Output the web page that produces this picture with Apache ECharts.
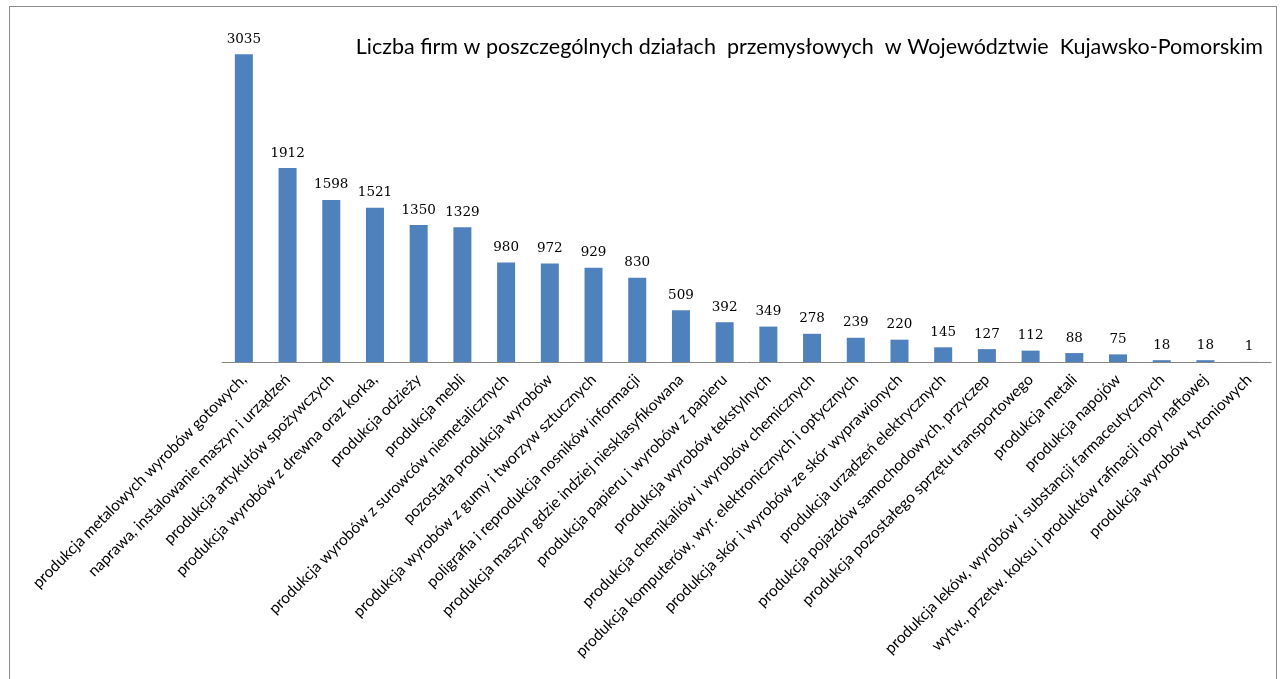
<!DOCTYPE html>
<html>
<head>
<meta charset="utf-8">
<script src="https://cdn.jsdelivr.net/npm/echarts@6/dist/echarts.min.js"></script>
<style>
    html, body {margin: 0; padding: 0; background: #fff;}
    #frame {position: absolute; left: 9px; top: 6px; width: 1268px; height: 690px; border: 1px solid #8c8c8c; box-sizing: border-box;}
    #main {position: absolute; left: 0; top: 0; width: 1280px; height: 679px;}
</style>
</head>
<body>
<div id="frame"></div>
<div id="main"></div>
<script>
// dane: liczba firm w działach przemysłowych
var categories = [
    'produkcja metalowych wyrobów gotowych,',
    'naprawa, instalowanie maszyn i urządzeń',
    'produkcja artykułów spożywczych',
    'produkcja wyrobów z drewna oraz korka,',
    'produkcja odzieży',
    'produkcja mebli',
    'produkcja wyrobów z surowców niemetalicznych',
    'pozostała produkcja wyrobów',
    'produkcja wyrobów z gumy i tworzyw sztucznych',
    'poligrafia i reprodukcja nosników informacji',
    'produkcja maszyn gdzie indziej niesklasyfikowana',
    'produkcja papieru i wyrobów z papieru',
    'produkcja wyrobów tekstylnych',
    'produkcja chemikaliów i wyrobów chemicznych',
    'produkcja komputerów, wyr. elektronicznych i optycznych',
    'produkcja skór i wyrobów ze skór wyprawionych',
    'produkcja urządzeń elektrycznych',
    'produkcja pojazdów samochodowych, przyczep',
    'produkcja pozostałego sprzętu transportowego',
    'produkcja metali',
    'produkcja napojów',
    'produkcja leków, wyrobów i substancji farmaceutycznych',
    'wytw., przetw. koksu i produktów rafinacji ropy naftowej',
    'produkcja wyrobów tytoniowych'
];
var firmy = [3035, 1912, 1598, 1521, 1350, 1329, 980, 972, 929, 830, 509, 392, 349, 278, 239, 220, 145, 127, 112, 88, 75, 18, 18, 1];

var myChart = echarts.init(document.getElementById('main'));

var option = {
    animation: false,
    title: {
        text: 'Liczba firm w poszczególnych działach  przemysłowych  w Województwie  Kujawsko-Pomorskim',
        right: 12,
        top: 31,
        textStyle: {
            fontFamily: 'Lato',
            fontSize: 21.5,
            fontWeight: 'normal',
            color: '#000'
        }
    },
    grid: {
        left: 222,
        right: 9,
        top: 7,
        bottom: 317
    },
    xAxis: {
        type: 'category',
        data: categories,
        axisLine: {lineStyle: {color: '#868686', width: 1}},
        axisTick: {show: false},
        axisLabel: {
            interval: 0,
            rotate: 45,
            margin: 15,
            fontFamily: 'Lato',
            fontSize: 15.5,
            color: '#000'
        }
    },
    yAxis: {
        type: 'value',
        min: 0,
        max: 3500,
        show: false,
        splitLine: {show: false}
    },
    series: [{
        type: 'bar',
        data: firmy,
        barWidth: 18,
        itemStyle: {color: '#4F81BD'},
        label: {
            show: true,
            position: 'top',
            distance: 8,
            fontFamily: 'DejaVu Serif',
            fontSize: 13.5,
            color: '#000'
        }
    }]
};

myChart.setOption(option);
</script>
</body>
</html>
